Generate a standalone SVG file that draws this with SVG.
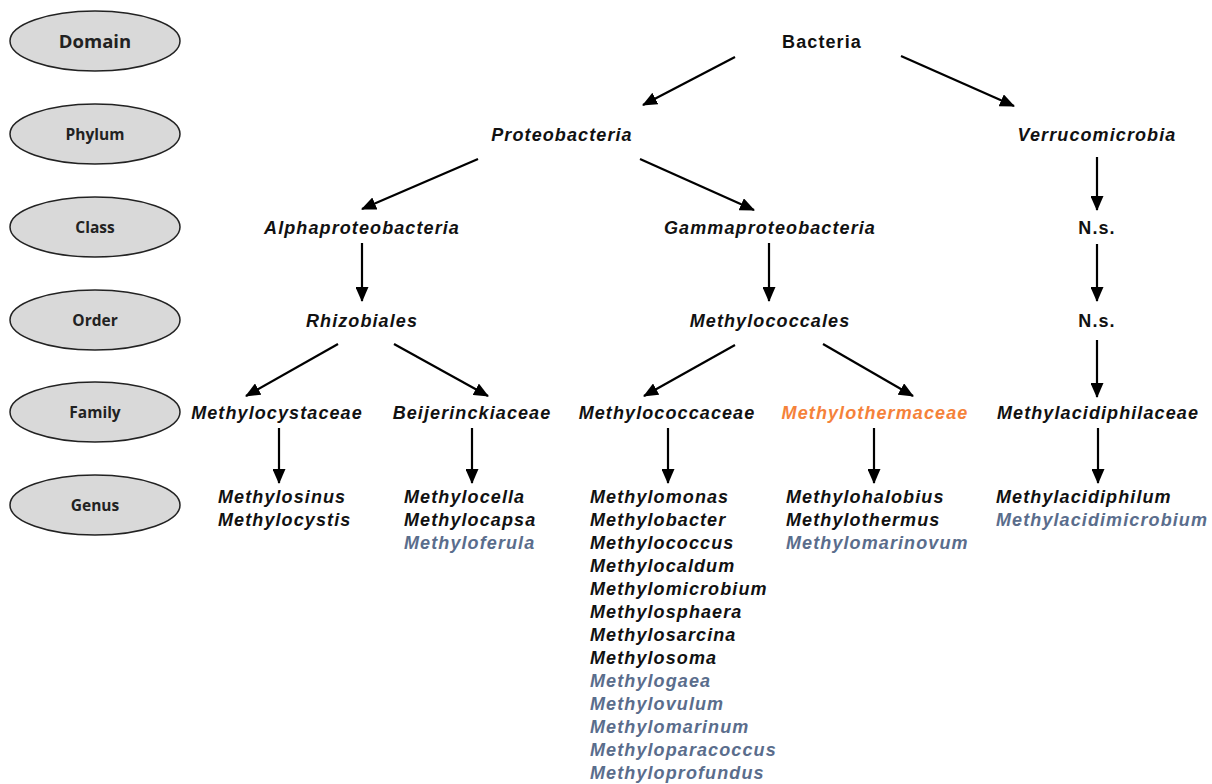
<svg xmlns="http://www.w3.org/2000/svg" width="1212" height="784" viewBox="0 0 1212 784">
<defs>
<marker id="ah" markerWidth="15" markerHeight="13" refX="14" refY="6.5" orient="auto" markerUnits="userSpaceOnUse">
<path d="M0,0 L15,6.5 L0,13 Z" fill="#000"/>
</marker>
<style>
.rank ellipse{fill:#d9d9d9;stroke:#222;stroke-width:1.5}
.rank text{font-family:"Open Sans","Liberation Sans",sans-serif;font-weight:bold;font-size:15.5px;text-anchor:middle;fill:#222}
.t{font-family:"Liberation Sans",Arial,sans-serif;font-weight:bold;font-style:italic;font-size:18px;letter-spacing:1.1px;fill:#111}
.c{text-anchor:middle}
.b{fill:#5a6d8c}
.o{fill:#f5823a}
#edges line{stroke:#000;stroke-width:2.2;marker-end:url(#ah)}
</style>
</defs>
<rect width="1212" height="784" fill="#fff"/>
<g id="rank-domain" class="rank"><ellipse cx="95" cy="41" rx="85" ry="30"/><text x="95" y="48" style="font-size:18.5px">Domain</text></g>
<g id="rank-phylum" class="rank"><ellipse cx="95" cy="134" rx="85" ry="30"/><text x="95" y="140">Phylum</text></g>
<g id="rank-class" class="rank"><ellipse cx="95" cy="227" rx="85" ry="30"/><text x="95" y="233">Class</text></g>
<g id="rank-order" class="rank"><ellipse cx="95" cy="320" rx="85" ry="30"/><text x="95" y="326">Order</text></g>
<g id="rank-family" class="rank"><ellipse cx="95" cy="412" rx="85" ry="30"/><text x="95" y="418">Family</text></g>
<g id="rank-genus" class="rank"><ellipse cx="95" cy="505" rx="85" ry="30"/><text x="95" y="511">Genus</text></g>

<g id="n-bacteria"><text class="t c" x="822" y="48" style="font-style:normal">Bacteria</text></g>
<g id="n-proteobacteria"><text class="t c" x="562" y="141">Proteobacteria</text></g>
<g id="n-verrucomicrobia"><text class="t c" x="1097" y="141">Verrucomicrobia</text></g>
<g id="n-alpha"><text class="t c" x="362" y="234">Alphaproteobacteria</text></g>
<g id="n-gamma"><text class="t c" x="770" y="234">Gammaproteobacteria</text></g>
<g id="n-ns1"><text class="t c" x="1097" y="234" style="font-style:normal">N.s.</text></g>
<g id="n-rhizobiales"><text class="t c" x="362" y="327">Rhizobiales</text></g>
<g id="n-methylococcales"><text class="t c" x="770" y="327">Methylococcales</text></g>
<g id="n-ns2"><text class="t c" x="1097" y="327" style="font-style:normal">N.s.</text></g>
<g id="n-methylocystaceae"><text class="t c" x="277" y="419">Methylocystaceae</text></g>
<g id="n-beijerinckiaceae"><text class="t c" x="472" y="419">Beijerinckiaceae</text></g>
<g id="n-methylococcaceae"><text class="t c" x="667" y="419">Methylococcaceae</text></g>
<g id="n-methylothermaceae"><text class="t c o" x="875" y="419">Methylothermaceae</text></g>
<g id="n-methylacidiphilaceae"><text class="t c" x="1098" y="419">Methylacidiphilaceae</text></g>

<g id="g-methylocystaceae">
<text class="t" x="218" y="503">Methylosinus</text>
<text class="t" x="218" y="526">Methylocystis</text>
</g>
<g id="g-beijerinckiaceae">
<text class="t" x="404" y="503">Methylocella</text>
<text class="t" x="404" y="526">Methylocapsa</text>
<text class="t b" x="404" y="549">Methyloferula</text>
</g>
<g id="g-methylococcaceae">
<text class="t" x="590" y="503">Methylomonas</text>
<text class="t" x="590" y="526">Methylobacter</text>
<text class="t" x="590" y="549">Methylococcus</text>
<text class="t" x="590" y="572">Methylocaldum</text>
<text class="t" x="590" y="595">Methylomicrobium</text>
<text class="t" x="590" y="618">Methylosphaera</text>
<text class="t" x="590" y="641">Methylosarcina</text>
<text class="t" x="590" y="664">Methylosoma</text>
<text class="t b" x="590" y="687">Methylogaea</text>
<text class="t b" x="590" y="710">Methylovulum</text>
<text class="t b" x="590" y="733">Methylomarinum</text>
<text class="t b" x="590" y="756">Methyloparacoccus</text>
<text class="t b" x="590" y="779">Methyloprofundus</text>
</g>
<g id="g-methylothermaceae">
<text class="t" x="786" y="503">Methylohalobius</text>
<text class="t" x="786" y="526">Methylothermus</text>
<text class="t b" x="786" y="549">Methylomarinovum</text>
</g>
<g id="g-methylacidiphilaceae">
<text class="t" x="996" y="503">Methylacidiphilum</text>
<text class="t b" x="996" y="526">Methylacidimicrobium</text>
</g>

<g id="edges">
<line x1="735" y1="57" x2="643" y2="105"/>
<line x1="901" y1="56" x2="1014" y2="106"/>
<line x1="478" y1="159" x2="362" y2="209"/>
<line x1="640" y1="159" x2="754" y2="210"/>
<line x1="1097" y1="157" x2="1097" y2="210"/>
<line x1="362" y1="243" x2="362" y2="301"/>
<line x1="769" y1="243" x2="769" y2="301"/>
<line x1="1097" y1="244" x2="1097" y2="301"/>
<line x1="338" y1="344" x2="246" y2="396"/>
<line x1="394" y1="344" x2="488" y2="396"/>
<line x1="735" y1="345" x2="644" y2="396"/>
<line x1="823" y1="344" x2="913" y2="396"/>
<line x1="1097" y1="340" x2="1097" y2="397"/>
<line x1="279" y1="428" x2="279" y2="483"/>
<line x1="472" y1="428" x2="472" y2="483"/>
<line x1="668" y1="428" x2="668" y2="483"/>
<line x1="874" y1="428" x2="874" y2="483"/>
<line x1="1098" y1="428" x2="1098" y2="483"/>
</g>
</svg>
